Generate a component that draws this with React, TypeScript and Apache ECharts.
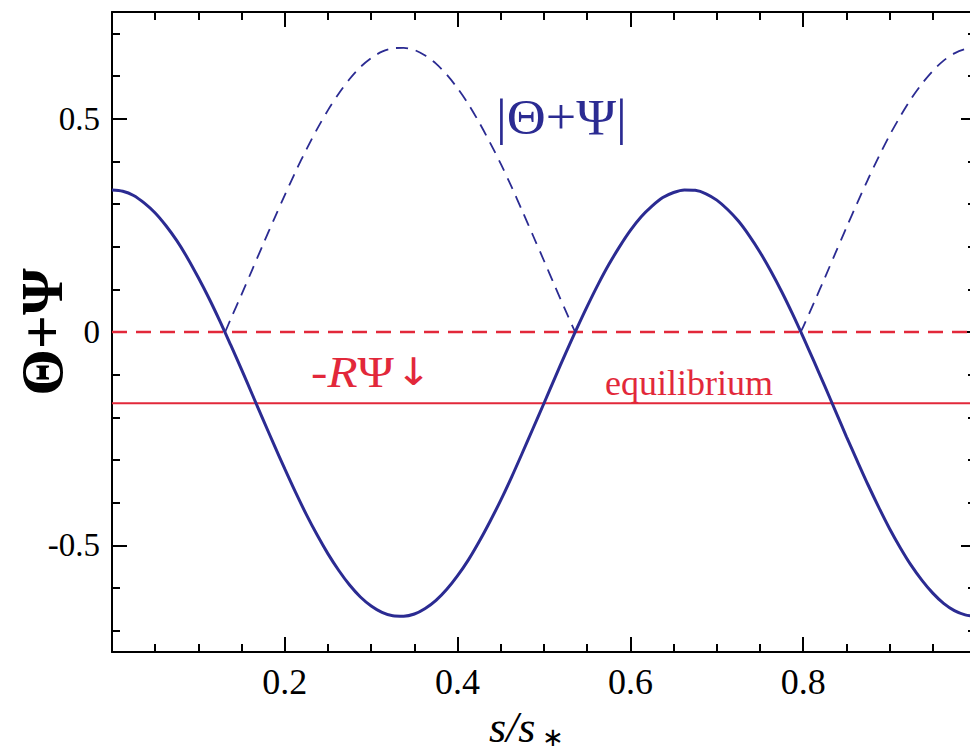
import React, { useEffect, useRef } from "react";
import * as echarts from "echarts";

// Θ+Ψ along the sound horizon s/s*
const sValues = [
  0, 0.0125, 0.025, 0.0375, 0.05, 0.0625, 0.075, 0.0875, 0.1, 0.1125, 0.125, 0.1375, 0.15,
  0.1625, 0.175, 0.1875, 0.2, 0.2125, 0.225, 0.2375, 0.25, 0.2625, 0.275, 0.2875, 0.3, 0.3125,
  0.325, 0.3375, 0.35, 0.3625, 0.375, 0.3875, 0.4, 0.4125, 0.425, 0.4375, 0.45, 0.4625, 0.475,
  0.4875, 0.5, 0.5125, 0.525, 0.5375, 0.55, 0.5625, 0.575, 0.5875, 0.6, 0.6125, 0.625, 0.6375,
  0.65, 0.6625, 0.675, 0.6875, 0.7, 0.7125, 0.725, 0.7375, 0.75, 0.7625, 0.775, 0.7875, 0.8,
  0.8125, 0.825, 0.8375, 0.85, 0.8625, 0.875, 0.8875, 0.9, 0.9125, 0.925, 0.9375, 0.95, 0.9625,
  0.975, 0.9875, 1.0,
];
const thetaPlusPsi = [
  0.333, 0.33, 0.32, 0.302, 0.279, 0.249, 0.214, 0.173, 0.127, 0.078, 0.025, -0.031, -0.088,
  -0.147, -0.206, -0.264, -0.321, -0.376, -0.428, -0.476, -0.52, -0.559, -0.593, -0.621, -0.642,
  -0.657, -0.665, -0.666, -0.661, -0.648, -0.629, -0.603, -0.571, -0.534, -0.491, -0.444, -0.394,
  -0.34, -0.283, -0.225, -0.167, -0.108, -0.05, 0.006, 0.06, 0.111, 0.158, 0.2, 0.238, 0.27,
  0.295, 0.315, 0.327, 0.333, 0.332, 0.324, 0.309, 0.287, 0.26, 0.226, 0.187, 0.143, 0.095,
  0.043, -0.012, -0.069, -0.127, -0.186, -0.245, -0.302, -0.358, -0.411, -0.461, -0.506, -0.547,
  -0.582, -0.612, -0.636, -0.653, -0.663, -0.667,
];

// |Θ+Ψ| over the troughs
const absArchS1 = [
  0.131, 0.1375, 0.15, 0.1625, 0.175, 0.1875, 0.2, 0.2125, 0.225, 0.2375, 0.25, 0.2625, 0.275,
  0.2875, 0.3, 0.3125, 0.325, 0.3375, 0.35, 0.3625, 0.375, 0.3875, 0.4, 0.4125, 0.425, 0.4375,
  0.45, 0.4625, 0.475, 0.4875, 0.5, 0.5125, 0.525, 0.536,
];
const absArchV1 = [
  0, 0.031, 0.088, 0.147, 0.206, 0.264, 0.321, 0.376, 0.428, 0.476, 0.52, 0.559, 0.593, 0.621,
  0.642, 0.657, 0.665, 0.666, 0.661, 0.648, 0.629, 0.603, 0.571, 0.534, 0.491, 0.444, 0.394, 0.34,
  0.283, 0.225, 0.167, 0.108, 0.05, 0,
];
const absArchS2 = [
  0.797, 0.8, 0.8125, 0.825, 0.8375, 0.85, 0.8625, 0.875, 0.8875, 0.9, 0.9125, 0.925, 0.9375,
  0.95, 0.9625, 0.975, 0.9875, 1.0,
];
const absArchV2 = [
  0, 0.012, 0.069, 0.127, 0.186, 0.245, 0.302, 0.358, 0.411, 0.461, 0.506, 0.547, 0.582, 0.612,
  0.636, 0.653, 0.663, 0.667,
];

const zeroLevel = 0;
const equilibriumLevel = -0.167;

const xMajorTicks = [0.2, 0.4, 0.6, 0.8];
const xMinorTicks = [0.05, 0.1, 0.15, 0.25, 0.3, 0.35, 0.45, 0.5, 0.55, 0.65, 0.7, 0.75, 0.85, 0.9, 0.95];
const yMajorTicks = [-0.5, 0, 0.5];
const yMinorTicks = [-0.7, -0.6, -0.4, -0.3, -0.2, -0.1, 0.1, 0.2, 0.3, 0.4, 0.6, 0.7];

const BLUE = "#2b2b92";
const RED = "#e2283a";
const SERIF = '"Liberation Serif", "Times New Roman", serif';

const zip = (xs: number[], ys: number[]) => xs.map((x, i) => [x, ys[i]]);

function xAxisDef(position: "top" | "bottom", major: boolean) {
  return {
    type: "value",
    min: 0,
    max: 1,
    position,
    axisLine: { show: major, onZero: false, lineStyle: { color: "#000", width: 2 } },
    axisTick: {
      show: true,
      inside: true,
      length: major ? 15 : 8,
      customValues: major ? xMajorTicks : xMinorTicks,
      lineStyle: { color: "#000", width: 2 },
    },
    axisLabel: {
      show: major && position === "bottom",
      customValues: xMajorTicks,
      formatter: (v: number) => v.toFixed(1),
      fontSize: 36,
      fontFamily: SERIF,
      color: "#000",
      margin: 12,
    },
    splitLine: { show: false },
  };
}

function yAxisDef(position: "left" | "right", major: boolean) {
  const base: any = {
    type: "value",
    min: -0.75,
    max: 0.75,
    position,
    axisLine: { show: major, onZero: false, lineStyle: { color: "#000", width: 2 } },
    axisTick: {
      show: true,
      inside: true,
      length: major ? 15 : 8,
      customValues: major ? yMajorTicks : yMinorTicks,
      lineStyle: { color: "#000", width: 2 },
    },
    axisLabel: {
      show: major && position === "left",
      customValues: yMajorTicks,
      formatter: (v: number) => (v === 0 ? "0" : String(v)),
      fontSize: 33,
      fontFamily: SERIF,
      color: "#000",
      margin: 12,
    },
    splitLine: { show: false },
  };
  if (major && position === "left") {
    base.name = "Θ+Ψ";
    base.nameLocation = "middle";
    base.nameRotate = 90;
    base.nameGap = 40;
    base.nameMoveOverlap = false;
    base.nameTextStyle = { fontSize: 60, fontWeight: "bold", fontFamily: SERIF, color: "#000" };
  }
  return base;
}

export default function App() {
  const ref = useRef<HTMLDivElement>(null);

  useEffect(() => {
    if (!ref.current) return;
    const chart = echarts.init(ref.current, undefined, { renderer: "svg" });
    chart.setOption({
      animation: false,
      backgroundColor: "#fff",
      grid: {
        left: 112,
        right: -6,
        top: 12,
        bottom: 100,
        containLabel: false,
        outerBoundsMode: "none",
      },
      xAxis: [
        xAxisDef("bottom", true),
        xAxisDef("bottom", false),
        xAxisDef("top", true),
        xAxisDef("top", false),
      ],
      yAxis: [
        yAxisDef("left", true),
        yAxisDef("left", false),
        yAxisDef("right", true),
        yAxisDef("right", false),
      ],
      series: [
        {
          type: "line",
          data: [
            [0, zeroLevel],
            [1, zeroLevel],
          ],
          symbol: "none",
          lineStyle: { color: RED, width: 2.5, type: [15, 9] },
          silent: true,
        },
        {
          type: "line",
          data: [
            [0, equilibriumLevel],
            [1, equilibriumLevel],
          ],
          symbol: "none",
          lineStyle: { color: RED, width: 2 },
          silent: true,
        },
        {
          type: "line",
          data: zip(absArchS1, absArchV1),
          symbol: "none",
          smooth: 0.3,
          lineStyle: { color: BLUE, width: 1.8, type: [12, 8] },
        },
        {
          type: "line",
          data: zip(absArchS2, absArchV2),
          symbol: "none",
          smooth: 0.3,
          lineStyle: { color: BLUE, width: 1.8, type: [12, 8] },
        },
        {
          type: "line",
          data: zip(sValues, thetaPlusPsi),
          symbol: "none",
          smooth: 0.3,
          lineStyle: { color: BLUE, width: 3 },
        },
      ],
      graphic: [
        {
          type: "text",
          x: 496,
          y: 117,
          scaleX: 1.08,
          style: {
            text: "|Θ+Ψ|",
            fill: BLUE,
            font: `50px ${SERIF}`,
            verticalAlign: "middle",
          },
        },
        {
          type: "text",
          x: 311,
          y: 372,
          scaleX: 1.12,
          style: {
            text: "{n|-}{r|R}{n|Ψ}{a|↓}",
            fill: RED,
            verticalAlign: "middle",
            rich: {
              n: { fontSize: 44, fontFamily: SERIF, fill: RED },
              r: { fontSize: 44, fontFamily: SERIF, fontStyle: "italic", fill: RED },
              a: { fontSize: 38, fontFamily: '"DejaVu Sans", sans-serif', fill: RED, padding: [0, 0, 0, 2] },
            },
          },
        },
        {
          type: "text",
          x: 605,
          y: 383,
          style: {
            text: "equilibrium",
            fill: RED,
            font: `36px ${SERIF}`,
            verticalAlign: "middle",
          },
        },
        {
          type: "text",
          x: 489,
          y: 727,
          style: {
            text: "s/s",
            fill: "#000",
            font: `italic 44px ${SERIF}`,
            verticalAlign: "middle",
          },
        },
        {
          type: "text",
          x: 542,
          y: 737,
          style: {
            text: "∗",
            fill: "#000",
            font: `26px ${SERIF}`,
            verticalAlign: "middle",
          },
        },
      ],
    });
    return () => chart.dispose();
  }, []);

  return (
    <div
      ref={ref}
      style={{ position: "fixed", left: 0, top: 0, width: 970, height: 752, background: "#fff" }}
    />
  );
}
